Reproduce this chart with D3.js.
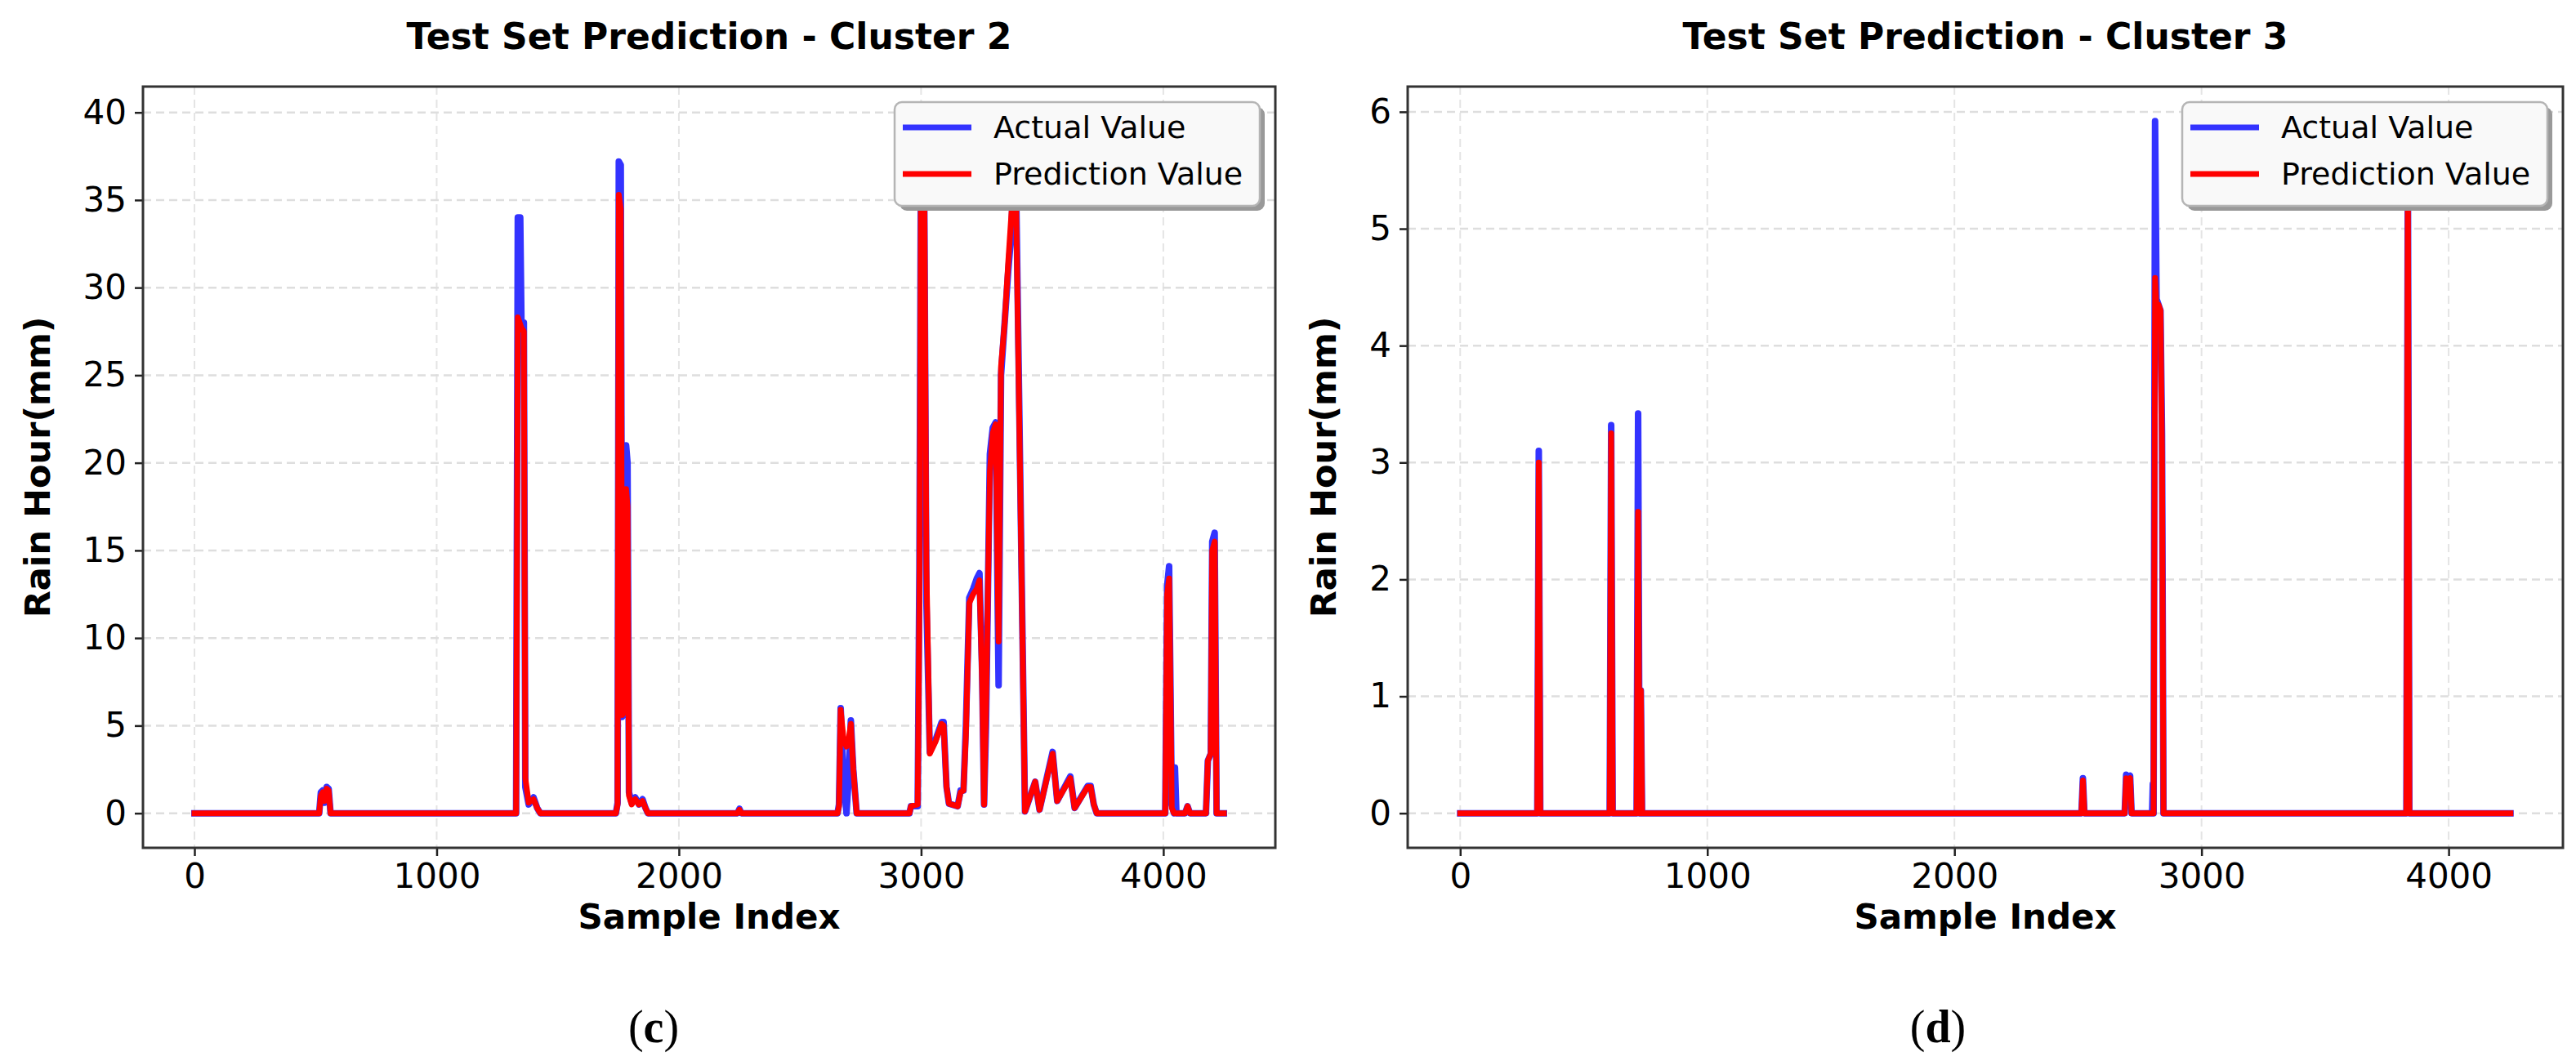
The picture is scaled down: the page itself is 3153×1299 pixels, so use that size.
<!DOCTYPE html>
<html>
<head>
<meta charset="utf-8">
<script src="https://cdn.jsdelivr.net/npm/d3@7"></script>
<style>
  body { margin: 0; background: #fff; }
  text { font-family: "DejaVu Sans", sans-serif; }
</style>
</head>
<body>
<div id="chart"></div>
<script>
// sample index ticks shared by both panels
var xTicks = [0, 1000, 2000, 3000, 4000];
var c2YTicks = [0, 5, 10, 15, 20, 25, 30, 35, 40];
var c3YTicks = [0, 1, 2, 3, 4, 5, 6];

// Cluster 2 - key points (zero in between)
var c2Index  = [0, 515, 522, 530, 538, 546, 554, 562, 1328, 1335, 1345, 1350, 1360, 1366, 1380, 1400, 1415, 1428,
  1740, 1747, 1752, 1760, 1766, 1776, 1782, 1788, 1794, 1805, 1820, 1835, 1850, 1862, 1872,
  2242, 2250, 2258, 2655, 2661, 2668, 2680, 2692, 2701, 2710, 2720, 2734,
  2952, 2958, 2986, 2993, 3000, 3012, 3022, 3036, 3060, 3085, 3093, 3105, 3115, 3151, 3163, 3175, 3185,
  3199, 3215, 3230, 3241, 3252, 3260, 3268, 3284, 3296, 3308, 3320, 3330, 3345, 3360, 3372, 3383, 3392,
  3429, 3471, 3489, 3543, 3562, 3616, 3634, 3688, 3700, 3713, 3725,
  4008, 4016, 4024, 4035, 4044, 4048, 4054, 4090, 4100, 4110, 4176, 4184, 4196, 4202, 4212, 4220, 4250];
var c2Actual = [0, 0, 1.2, 1.3, 0.6, 1.5, 1.4, 0, 0, 34, 34, 28, 28, 1.5, 0.5, 0.9, 0.3, 0,
  0, 0.6, 37.2, 37.0, 5.5, 6.0, 21, 20, 1.2, 0.6, 0.9, 0.5, 0.8, 0.3, 0,
  0, 0.25, 0, 0, 0.5, 6.0, 2.0, 0, 2.0, 5.3, 2.5, 0,
  0, 0.4, 0.4, 14, 39.5, 38, 12, 3.5, 4.2, 5.2, 5.2, 1.5, 0.55, 0.4, 1.3, 1.3, 5,
  12.3, 12.8, 13.4, 13.7, 8, 0.5, 5, 20.5, 22, 22.3, 7.3, 25, 28, 31, 33, 37, 36,
  0.1, 1.8, 0.2, 3.5, 0.7, 2.1, 0.3, 1.56, 1.56, 0.5, 0,
  0, 13, 14.1, 0.5, 0, 2.6, 0, 0, 0.4, 0, 0, 3, 3.4, 15.5, 16, 0, 0];
var c2Pred   = [0, 0, 1.0, 1.2, 0.7, 1.4, 1.3, 0, 0, 28.3, 27.9, 27.7, 27.5, 2.0, 0.6, 0.8, 0.3, 0,
  0, 0.5, 35.3, 34.5, 5.6, 5.8, 18.5, 17.5, 1.0, 0.5, 0.8, 0.5, 0.7, 0.3, 0,
  0, 0.2, 0, 0, 0.4, 5.9, 4.2, 3.8, 4.2, 5.1, 2.5, 0,
  0, 0.4, 0.5, 12, 37.5, 38.5, 14, 3.4, 4.1, 5.1, 5.0, 1.5, 0.55, 0.4, 1.2, 1.3, 4.5,
  12, 12.5, 12.8, 13.3, 7.5, 0.5, 6, 19.5, 21.7, 22.2, 9.8, 25.5, 28, 31.5, 34, 36.5, 35,
  0.1, 1.8, 0.2, 3.4, 0.7, 2.0, 0.3, 1.5, 1.5, 0.5, 0,
  0, 12.5, 13.4, 0.3, 0, 0, 0, 0, 0.4, 0, 0, 3, 3.4, 15.0, 15.5, 0, 0];

// Cluster 3 - key points
var c3Index  = [0, 312, 318, 324, 605, 611, 617, 714, 720, 726, 731, 736,
  2514, 2520, 2526, 2689, 2695, 2703, 2711, 2717, 2800, 2803, 2806, 2812, 2818, 2826, 2834, 2840, 2846,
  3829, 3835, 3841, 4250];
var c3Actual = [0, 0, 3.1, 0, 0, 3.32, 0, 0, 3.42, 0, 1.05, 0,
  0, 0.3, 0, 0, 0.33, 0.3, 0.32, 0, 0, 0.25, 0, 5.92, 4.4, 4.35, 4.3, 3.25, 0,
  0, 5.6, 0, 0];
var c3Pred   = [0, 0, 3.0, 0, 0, 3.25, 0, 0, 2.58, 0, 1.05, 0,
  0, 0.28, 0, 0, 0.3, 0.28, 0.3, 0, 0, 0, 0, 4.58, 4.3, 4.35, 4.3, 3.1, 0,
  0, 5.5, 0, 0];

var seriesNames = ["Actual Value", "Prediction Value"];
var seriesColors = ["#3333ff", "#ff0000"];

var svgWidth = 3153;
var svgHeight = 1299;
var plotTop = 106;
var plotBottom = 1038;

var svg = d3.select("#chart")
  .append("svg")
  .attr("width", svgWidth)
  .attr("height", svgHeight)
  .style("background", "#fff");

var panels = [
  { id: "c2", title: "Test Set Prediction - Cluster 2", idx: c2Index, actual: c2Actual, pred: c2Pred,
    yTicks: c2YTicks, left: 175, right: 1561, ylabelX: 46, tag: "c", tagX: 800 },
  { id: "c3", title: "Test Set Prediction - Cluster 3", idx: c3Index, actual: c3Actual, pred: c3Pred,
    yTicks: c3YTicks, left: 1723, right: 3137, ylabelX: 1620, tag: "d", tagX: 2372 }
];

function drawPanel(p) {
  var xMax = d3.max(p.idx);
  var x = d3.scaleLinear()
    .domain([-0.05 * xMax, 1.05 * xMax])
    .range([p.left, p.right]);

  var yMax = d3.max(p.actual.concat(p.pred));
  var yPad = 0.05 * yMax;
  var y = d3.scaleLinear()
    .domain([-yPad, yMax + yPad])
    .range([plotBottom, plotTop]);

  var g = svg.append("g").attr("class", "panel-" + p.id);

  // grid
  g.append("g").selectAll("line")
    .data(xTicks).enter().append("line")
    .attr("x1", d => x(d)).attr("x2", d => x(d))
    .attr("y1", plotTop).attr("y2", plotBottom)
    .attr("stroke", "#e4e4e4").attr("stroke-width", 2)
    .attr("stroke-dasharray", "10,6");

  g.append("g").selectAll("line")
    .data(p.yTicks).enter().append("line")
    .attr("x1", p.left).attr("x2", p.right)
    .attr("y1", d => y(d)).attr("y2", d => y(d))
    .attr("stroke", "#dedede").attr("stroke-width", 2.5)
    .attr("stroke-dasharray", "10,6");

  // clip for lines
  svg.append("clipPath").attr("id", "clip-" + p.id)
    .append("rect")
    .attr("x", p.left).attr("y", plotTop)
    .attr("width", p.right - p.left).attr("height", plotBottom - plotTop);

  var rows = p.idx.map((d, i) => ({ i: d, a: p.actual[i], p: p.pred[i] }));

  var actualLine = d3.line().x(d => x(d.i)).y(d => y(d.a));
  var predLine = d3.line().x(d => x(d.i)).y(d => y(d.p));

  var lines = g.append("g").attr("clip-path", "url(#clip-" + p.id + ")");
  lines.append("path")
    .datum(rows)
    .attr("d", actualLine)
    .attr("fill", "none")
    .attr("stroke", seriesColors[0])
    .attr("stroke-width", 8)
    .attr("stroke-linejoin", "round")
    .attr("stroke-linecap", "square");
  lines.append("path")
    .datum(rows)
    .attr("d", predLine)
    .attr("fill", "none")
    .attr("stroke", seriesColors[1])
    .attr("stroke-width", 7)
    .attr("stroke-linejoin", "round")
    .attr("stroke-linecap", "square");

  // axes
  var xAxis = g.append("g")
    .attr("transform", `translate(0, ${plotBottom})`)
    .call(d3.axisBottom(x).tickValues(xTicks).tickSize(10).tickPadding(9).tickFormat(d3.format("d")));
  var yAxis = g.append("g")
    .attr("transform", `translate(${p.left}, 0)`)
    .call(d3.axisLeft(y).tickValues(p.yTicks).tickSize(10).tickPadding(10).tickFormat(d3.format("d")));

  [xAxis, yAxis].forEach(function(ax) {
    ax.attr("font-size", 42).attr("font-family", "DejaVu Sans");
    ax.select(".domain").remove();
    ax.selectAll("line").attr("stroke", "#222").attr("stroke-width", 2.5);
    ax.selectAll("text").attr("fill", "#000");
  });

  // frame
  g.append("rect")
    .attr("x", p.left).attr("y", plotTop)
    .attr("width", p.right - p.left).attr("height", plotBottom - plotTop)
    .attr("fill", "none").attr("stroke", "#333").attr("stroke-width", 3);

  // legend
  var lw = 447, lh = 127;
  var lx = p.right - 19 - lw, ly = plotTop + 19;
  var legend = g.append("g");
  legend.append("rect")
    .attr("x", lx + 6).attr("y", ly + 6)
    .attr("width", lw).attr("height", lh).attr("rx", 9)
    .attr("fill", "#999");
  legend.append("rect")
    .attr("x", lx).attr("y", ly)
    .attr("width", lw).attr("height", lh).attr("rx", 9)
    .attr("fill", "#f9f9f9").attr("stroke", "#b5b5b5").attr("stroke-width", 2.5);

  seriesNames.forEach(function(name, i) {
    var yy = ly + 31 + i * 57;
    legend.append("line")
      .attr("x1", lx + 10).attr("x2", lx + 94)
      .attr("y1", yy).attr("y2", yy)
      .attr("stroke", seriesColors[i]).attr("stroke-width", 7);
    legend.append("text")
      .attr("x", lx + 121).attr("y", yy)
      .attr("dominant-baseline", "central")
      .attr("font-size", 38)
      .text(name);
  });

  // title and axis labels
  g.append("text")
    .attr("x", (p.left + p.right) / 2).attr("y", 60)
    .attr("text-anchor", "middle")
    .attr("font-size", 44).attr("font-weight", "bold")
    .text(p.title);

  g.append("text")
    .attr("x", (p.left + p.right) / 2).attr("y", 1137)
    .attr("text-anchor", "middle")
    .attr("font-size", 42).attr("font-weight", "bold")
    .text("Sample Index");

  g.append("text")
    .attr("transform", `translate(${p.ylabelX}, ${(plotTop + plotBottom) / 2}) rotate(-90)`)
    .attr("text-anchor", "middle")
    .attr("dominant-baseline", "central")
    .attr("font-size", 43).attr("font-weight", "bold")
    .text("Rain Hour(mm)");

  // sub-figure tag (c) / (d)
  var tag = g.append("text")
    .attr("x", p.tagX).attr("y", 1276)
    .attr("text-anchor", "middle")
    .attr("font-size", 56)
    .style("font-family", "'Liberation Serif', serif");
  tag.append("tspan").text("(");
  tag.append("tspan").attr("font-weight", "bold").text(p.tag);
  tag.append("tspan").text(")");
}

panels.forEach(drawPanel);
</script>
</body>
</html>
